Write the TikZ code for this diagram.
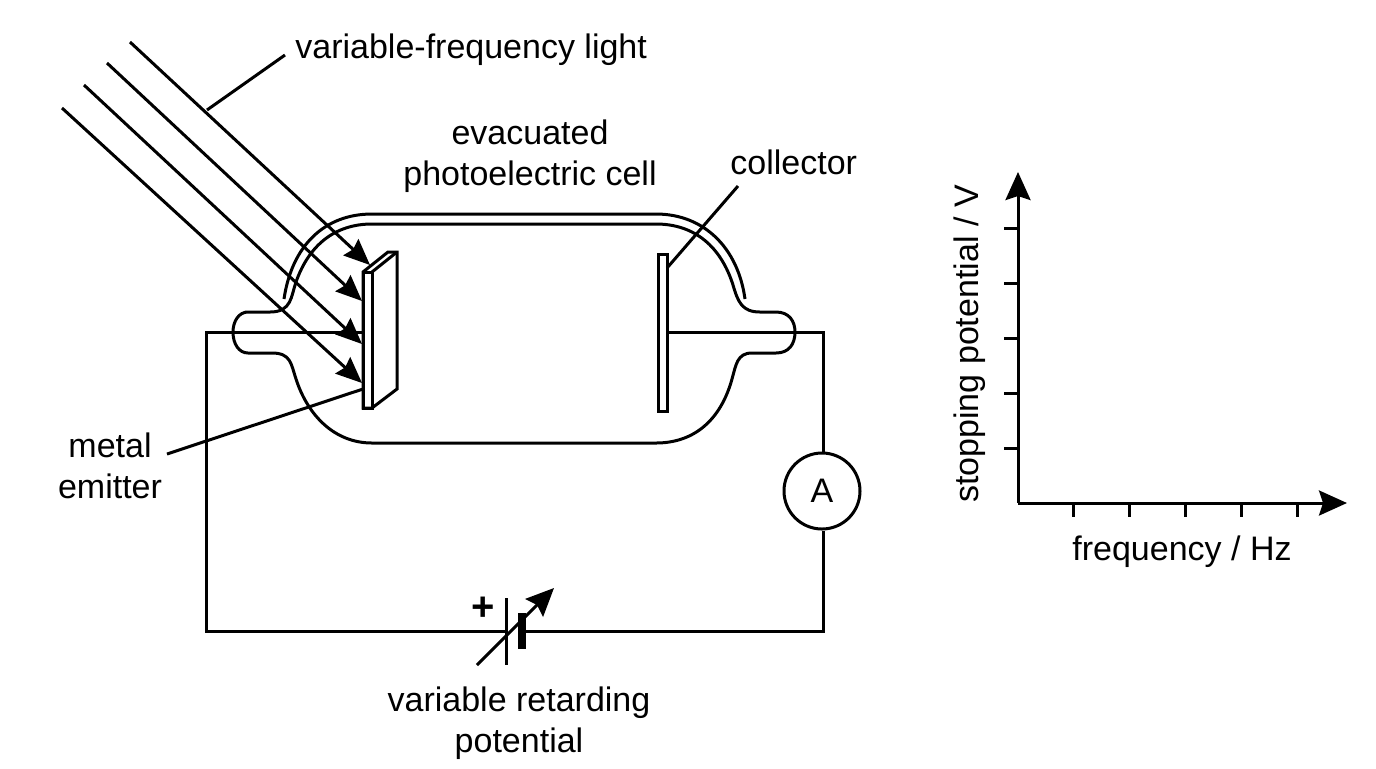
\documentclass[tikz,border=0pt]{standalone}
\usepackage{fontspec}
\setmainfont{Liberation Sans}
\usetikzlibrary{arrows.meta}
\tikzset{
  >={Stealth[length=14pt,width=12.5pt,inset=2pt]},
  wire/.style = {line width=1.5pt, line join=miter},
  glass/.style = {line width=1.5pt},
  label/.style = {align=center, font=\fontsize{17}{20.5}\selectfont, inner sep=0},
  plate/.style = {draw, line width=1.5pt, fill=white},
  meter/.style = {circle, draw, line width=1.5pt, fill=white, minimum size=38pt, inner sep=0},
  ray/.style = {wire,-{Stealth[length=13pt,width=11pt,inset=1.5pt]}},
  axis/.style = {wire,->},
}
\begin{document}
\begin{tikzpicture}[x=.5pt,y=-.5pt]
\useasboundingbox (0,0) rectangle (1376,768);
% circuit corners
\coordinate (tl) at (206,332);
\coordinate (bl) at (206,631);
\coordinate (br) at (823,631);
\coordinate (tr) at (823,332);
\coordinate (emit) at (363,332);
\coordinate (coll) at (667,332);
\coordinate (batL) at (506,631);
\coordinate (batR) at (522,631);
\node[meter,font=\fontsize{17}{18}\selectfont] (A) at (822,491) {A};
\draw[wire] (emit) -- (tl) -- (bl) -- (batL);
\draw[wire] (batR) -- (br) -- (A.south-|br);
\draw[wire] (A.north-|tr) -- (tr) -- (coll);
% bulb
\draw[glass] (245,312) -- (270,312)
  .. controls (292,312) and (291,296) .. (296,282)
  .. controls (309,245) and (335,224) .. (372,224)
  -- (656,224)
  .. controls (695,224) and (721,247) .. (733,285)
  .. controls (738,302) and (742,312) .. (760,312)
  -- (776,312)
  .. controls (789,312) and (795,321) .. (795,332)
  .. controls (795,344) and (789,353) .. (776,353)
  -- (752,353)
  .. controls (737,353) and (736,365) .. (732,379)
  .. controls (721,419) and (695,443) .. (656,443)
  -- (372,443)
  .. controls (335,443) and (308,416) .. (296,379)
  .. controls (291,364) and (291,353) .. (272,353)
  -- (248,353)
  .. controls (239,353) and (233,344) .. (233,332)
  .. controls (233,321) and (239,312) .. (248,312) -- cycle;
\draw[glass] (284,299) .. controls (292,245) and (325,214) .. (372,214)
  -- (656,214) .. controls (704,214) and (738,248) .. (745,299);
% emitter and collector
\draw[plate] (363,272) -- (388,252) -- (397,252) -- (397,389) -- (372,408) -- (363,408) -- cycle;
\draw[wire] (372,272) -- (397,252);
\draw[wire] (363,272) rectangle (372,408);
\draw[plate] (658,254) rectangle (667,411);
% light
\foreach \i/\sx/\sy/\ex/\ey in {1/130/42/370/265, 2/107/63/362/301, 3/84/85/362/344, 4/62/108/362/383}{
  \coordinate (s\i) at (\sx,\sy);
  \coordinate (e\i) at (\ex,\ey);
  \draw[ray] (s\i) -- (e\i);
}
% battery
\coordinate (p1) at (506,598);
\coordinate (p2) at (506,665);
\coordinate (v1) at (477,665);
\coordinate (v2) at (554,588);
\draw[wire] (p1) -- (p2);
\draw[line width=3.8pt] (522,613) -- (522,649);
\draw[wire,->] (v1) -- (v2);
% leaders
\node[label,anchor=west] (lightlab) at (295,50) {variable-frequency light};
\node[label] (celllab) at (530,156) {evacuated\\photoelectric cell};
\node[label,anchor=west] (colllab) at (730,162) {collector};
\node[label] (emitlab) at (110,466) {metal\\emitter};
\node[label] (batlab) at (519,723) {variable retarding\\potential};
\node[label,font=\fontsize{20}{20}\bfseries] (plus) at (483,609) {+};
\coordinate (l1) at (207,110);
\coordinate (l2) at (285,55);
\coordinate (c1) at (667,268);
\coordinate (c2) at (738,186);
\coordinate (m1) at (363,389);
\coordinate (m2) at (167,454);
\draw[wire] (l1) -- (l2);
\draw[wire] (c1) -- (c2);
\draw[wire] (m1) -- (m2);
% graph
\coordinate (O) at (1018,503);
\coordinate (ymax) at (1018,172);
\coordinate (xmax) at (1347,503);
\draw[axis] (O) -- (ymax);
\draw[axis] (O) -- (xmax);
\foreach \y in {448,393,338,283,228}
  \draw[wire] (1018,\y) -- (1004,\y);
\foreach \x in {1073,1129,1185,1241,1297}
  \draw[wire] (\x,503) -- (\x,517);
\node[label] (xlab) at (1182,552) {frequency / Hz};
\node[label,rotate=90] (ylab) at (970,344) {stopping potential / V};
\end{tikzpicture}
\end{document}
